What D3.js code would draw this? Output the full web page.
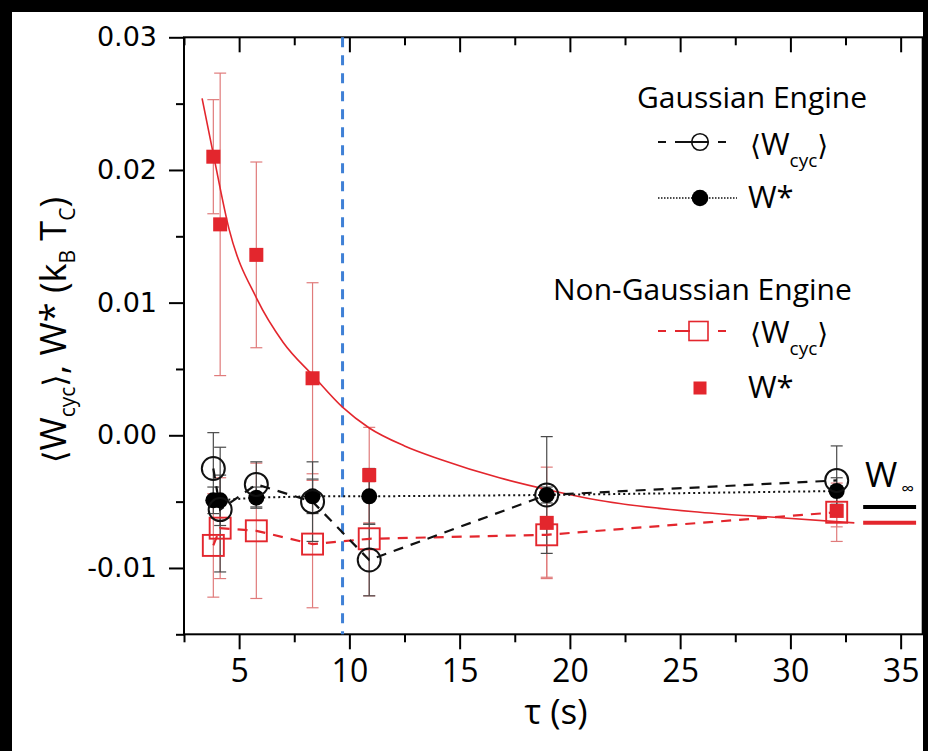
<!DOCTYPE html>
<html><head><meta charset="utf-8">
<script src="https://cdn.jsdelivr.net/npm/d3@7"></script>
<style>body{margin:0;background:#000;} svg{display:block}</style>
</head><body>
<svg id="chart" width="928" height="751"></svg>
<script>
// ---- data ----
const tau = [3.83, 4.14, 5.78, 8.33, 10.9, 18.95, 32.1];
const gaussWcyc      = [-0.0025, -0.0056, -0.0037, -0.0050, -0.0094, -0.0045, -0.0034];
const gaussWcycErr   = [0.0027, 0.0047, 0.0017, 0.0030, 0.0027, 0.0044, 0.0026];
const gaussWstar     = [-0.0049, -0.0049, -0.0047, -0.0046, -0.0046, -0.0045, -0.0042];
const gaussWstarErr  = [0.0010, 0.0019, 0.0008, 0.0013, 0.0021, 0.0006, 0.0010];
const nonGaussWcyc    = [-0.0083, -0.0070, -0.0072, -0.0082, -0.0078, -0.0075, -0.0058];
const nonGaussWcycErr = [0.0039, 0.0038, 0.0051, 0.0048, 0.0043, 0.0032, 0.0022];
const nonGaussWstar    = [0.0210, 0.0159, 0.0136, 0.0043, -0.0030, -0.0066, -0.0057];
const nonGaussWstarErr = [0.0043, 0.0114, 0.0070, 0.0072, 0.0036, 0.0042, 0.0012];
// fitted curve
const fitTau = [3.32, 3.83, 4.55, 5.8, 7.0, 8.35, 9.7, 10.9, 12.5, 14.1, 16.8, 19.0, 21.3, 25.9, 29.4, 32.9];
const fitW   = [0.0254, 0.0212, 0.0155, 0.0103, 0.0070, 0.0045, 0.0021, 0.00055, -0.0008, -0.0018, -0.0032, -0.0041, -0.0049, -0.0058, -0.0062, -0.0066];
const tauCritical = 9.69;
const wInfGauss = -0.0054, wInfNonGauss = -0.0066;
const wInfTau = [33.3, 35.7];
const xMajor = [5, 10, 15, 20, 25, 30, 35];
const xMinor = [2.5, 7.5, 12.5, 17.5, 22.5, 27.5, 32.5];
const yMajor = [-0.01, 0.00, 0.01, 0.02, 0.03];
const yMinor = [-0.015, -0.005, 0.005, 0.015, 0.025];
const yTickLabels = ["-0.01", "0.00", "0.01", "0.02", "0.03"];

// ---- setup ----
const svg = d3.select("#chart");
svg.append("rect").attr("x", 12).attr("y", 12).attr("width", 911).attr("height", 739).attr("fill", "#fff");
const x = d3.scaleLinear().domain([2.5, 36]).range([184, 922.7]);
const y = d3.scaleLinear().domain([-0.015, 0.03]).range([634.3, 37.3]);
const X0 = x.range()[0], X1 = x.range()[1], Y0 = y.range()[1], Y1 = y.range()[0];

const RED = "#e3262d", REDBAR = "#e07b7b", GRAYBAR = "#4a4a4a";

// ---- axes ----
function styleAxis(g) {
  g.selectAll("path.domain").remove();
  g.selectAll(".tick line").attr("stroke", "#000").attr("stroke-width", 2);
}
svg.append("g").attr("transform", `translate(0,${Y1})`)
  .call(d3.axisBottom(x).tickValues(xMajor).tickSize(15).tickSizeOuter(0).tickPadding(10).tickFormat(d3.format("d")))
  .call(styleAxis)
  .call(g => g.selectAll("text").attr("font-family", "Open Sans").attr("font-size", 32).attr("fill", "#000"));
svg.append("g").attr("transform", `translate(0,${Y1})`)
  .call(d3.axisBottom(x).tickValues(xMinor).tickSize(8).tickSizeOuter(0).tickFormat(""))
  .call(styleAxis);
svg.append("g").attr("transform", `translate(0,${Y0})`)
  .call(d3.axisTop(x).tickValues(xMajor).tickSize(-15).tickSizeOuter(0).tickFormat(""))
  .call(styleAxis);
svg.append("g").attr("transform", `translate(0,${Y0})`)
  .call(d3.axisTop(x).tickValues(xMinor).tickSize(-8).tickSizeOuter(0).tickFormat(""))
  .call(styleAxis);
svg.append("g").attr("transform", `translate(${X0},0)`)
  .call(d3.axisLeft(y).tickValues(yMajor).tickSize(15).tickSizeOuter(0).tickPadding(12)
    .tickFormat((d, i) => yTickLabels[i]))
  .call(styleAxis)
  .call(g => g.selectAll("text").attr("font-family", "DejaVu Sans").attr("font-size", 27).attr("fill", "#000"));
svg.append("g").attr("transform", `translate(${X0},0)`)
  .call(d3.axisLeft(y).tickValues(yMinor).tickSize(8).tickSizeOuter(0).tickFormat(""))
  .call(styleAxis);
svg.append("rect").attr("x", X0).attr("y", Y0).attr("width", X1 - X0).attr("height", Y1 - Y0)
  .attr("fill", "none").attr("stroke", "#000").attr("stroke-width", 2);

// ---- vertical dashed line ----
svg.append("line").attr("x1", x(tauCritical)).attr("x2", x(tauCritical)).attr("y1", Y0).attr("y2", Y1)
  .attr("stroke", "#3f80d6").attr("stroke-width", 3).attr("stroke-dasharray", "10,8");

// ---- error bars ----
function errorBars(vals, errs, color) {
  const g = svg.append("g").attr("stroke", color).attr("stroke-width", 1.2).attr("fill", "none");
  tau.forEach((t, i) => {
    const cx = x(t), ya = y(vals[i] + errs[i]), yb = y(vals[i] - errs[i]);
    g.append("line").attr("x1", cx).attr("x2", cx).attr("y1", ya).attr("y2", yb);
    g.append("line").attr("x1", cx - 6).attr("x2", cx + 6).attr("y1", ya).attr("y2", ya);
    g.append("line").attr("x1", cx - 6).attr("x2", cx + 6).attr("y1", yb).attr("y2", yb);
  });
}
errorBars(nonGaussWcyc, nonGaussWcycErr, REDBAR);
errorBars(nonGaussWstar, nonGaussWstarErr, REDBAR);
errorBars(gaussWcyc, gaussWcycErr, GRAYBAR);
errorBars(gaussWstar, gaussWstarErr, GRAYBAR);

// ---- fit curve ----
const line = d3.line().x(d => x(d[0])).y(d => y(d[1]));
svg.append("path").datum(fitTau.map((t, i) => [t, fitW[i]]))
  .attr("d", line.curve(d3.curveMonotoneX)).attr("fill", "none").attr("stroke", RED).attr("stroke-width", 1.6);

// ---- connecting lines ----
const lin = d3.line().x(d => x(d[0])).y(d => y(d[1])).curve(d3.curveLinear);
svg.append("path").datum(tau.map((t, i) => [t, nonGaussWcyc[i]])).attr("d", lin)
  .attr("fill", "none").attr("stroke", RED).attr("stroke-width", 2.2).attr("stroke-dasharray", "10,8");
svg.append("path").datum(tau.map((t, i) => [t, gaussWcyc[i]])).attr("d", lin)
  .attr("fill", "none").attr("stroke", "#111").attr("stroke-width", 2.2).attr("stroke-dasharray", "10,8");
svg.append("path").datum(tau.map((t, i) => [t, gaussWstar[i]])).attr("d", lin)
  .attr("fill", "none").attr("stroke", "#111").attr("stroke-width", 2).attr("stroke-dasharray", "2,3");

// ---- markers ----
svg.append("g").selectAll("rect").data(tau).join("rect")
  .attr("x", (t) => x(t) - 10.5).attr("y", (t, i) => y(nonGaussWcyc[i]) - 10.5)
  .attr("width", 21).attr("height", 21).attr("fill", "none").attr("stroke", RED).attr("stroke-width", 1.9);
svg.append("g").selectAll("rect").data(tau).join("rect")
  .attr("x", (t) => x(t) - 7).attr("y", (t, i) => y(nonGaussWstar[i]) - 7)
  .attr("width", 14).attr("height", 14).attr("fill", RED);
svg.append("g").selectAll("circle").data(tau).join("circle")
  .attr("cx", (t) => x(t)).attr("cy", (t, i) => y(gaussWstar[i])).attr("r", 8).attr("fill", "#000");
svg.append("g").selectAll("circle").data(tau).join("circle")
  .attr("cx", (t) => x(t)).attr("cy", (t, i) => y(gaussWcyc[i])).attr("r", 11.5)
  .attr("fill", "none").attr("stroke", "#111").attr("stroke-width", 2);

// ---- W infinity ----
svg.append("line").attr("x1", x(wInfTau[0])).attr("x2", x(wInfTau[1])).attr("y1", y(wInfGauss)).attr("y2", y(wInfGauss))
  .attr("stroke", "#000").attr("stroke-width", 4);
svg.append("line").attr("x1", x(wInfTau[0])).attr("x2", x(wInfTau[1])).attr("y1", y(wInfNonGauss)).attr("y2", y(wInfNonGauss))
  .attr("stroke", RED).attr("stroke-width", 4);
const winf = svg.append("text").attr("x", 865).attr("y", 487).attr("font-family", "Open Sans").attr("font-size", 35).attr("fill", "#000");
winf.append("tspan").text("W");
winf.append("tspan").attr("font-size", 18).attr("dx", 4).attr("dy", 8).text("∞");

// ---- legend ----
const LF = "Open Sans";
svg.append("text").attr("x", 637).attr("y", 108).attr("font-family", LF).attr("font-size", 30).attr("fill", "#000").text("Gaussian Engine");
svg.append("text").attr("x", 553).attr("y", 300).attr("font-family", LF).attr("font-size", 30).attr("fill", "#000").text("Non-Gaussian Engine");

function wcycLabel(xp, yb) {
  const t = svg.append("text").attr("x", xp).attr("y", yb).attr("font-family", LF).attr("font-size", 31).attr("fill", "#000");
  t.append("tspan").attr("font-family", "DejaVu Sans").attr("font-size", 28).text("⟨");
  t.append("tspan").text("W");
  t.append("tspan").attr("font-size", 19).attr("dy", 12).text("cyc");
  t.append("tspan").attr("font-family", "DejaVu Sans").attr("font-size", 28).attr("dy", -12).text("⟩");
}
function seg(g, x1, x2, yy, color, w, dash) {
  const l = g.append("line").attr("x1", x1).attr("x2", x2).attr("y1", yy).attr("y2", yy).attr("stroke", color).attr("stroke-width", w);
  if (dash) l.attr("stroke-dasharray", dash);
}
const lg = svg.append("g");
// row 1
seg(lg, 658, 666, 142, "#111", 2);
seg(lg, 675, 708, 142, "#111", 2);
seg(lg, 718, 726, 142, "#111", 2);
lg.append("circle").attr("cx", 700).attr("cy", 142).attr("r", 8.3).attr("fill", "none").attr("stroke", "#111").attr("stroke-width", 1.6);
wcycLabel(750, 155);
// row 2
seg(lg, 658, 737, 198, "#111", 1.5, "1.5,1.5");
lg.append("circle").attr("cx", 700).attr("cy", 198).attr("r", 8.3).attr("fill", "#000");
svg.append("text").attr("x", 748).attr("y", 208).attr("font-family", LF).attr("font-size", 31).attr("fill", "#000").text("W*");
// row 4
seg(lg, 658, 666, 331, RED, 2);
seg(lg, 675, 690, 331, RED, 2);
seg(lg, 718, 726, 331, RED, 2);
lg.append("rect").attr("x", 689).attr("y", 321.5).attr("width", 19).attr("height", 19).attr("fill", "none").attr("stroke", RED).attr("stroke-width", 1.6);
wcycLabel(750, 343);
// row 5
lg.append("rect").attr("x", 693.5).attr("y", 381.5).attr("width", 13).attr("height", 13).attr("fill", RED);
svg.append("text").attr("x", 748).attr("y", 398).attr("font-family", LF).attr("font-size", 31).attr("fill", "#000").text("W*");

// ---- axis titles ----
const yt = svg.append("text").attr("transform", "translate(66,330) rotate(-90)").attr("text-anchor", "middle")
  .attr("font-family", LF).attr("font-size", 36).attr("fill", "#000");
yt.append("tspan").attr("font-family", "DejaVu Sans").attr("font-size", 32).text("⟨");
yt.append("tspan").text("W");
yt.append("tspan").attr("font-size", 21).attr("dy", 9).text("cyc");
yt.append("tspan").attr("font-family", "DejaVu Sans").attr("font-size", 32).attr("dy", -9).text("⟩");
yt.append("tspan").text(", W* (k");
yt.append("tspan").attr("font-size", 21).attr("dy", 9).text("B");
yt.append("tspan").attr("dy", -9).text(" T");
yt.append("tspan").attr("font-size", 21).attr("dy", 9).text("C");
yt.append("tspan").attr("dy", -9).text(")");

svg.append("text").attr("x", 556).attr("y", 724).attr("text-anchor", "middle").attr("font-family", LF)
  .attr("font-size", 35).attr("fill", "#000").text("τ (s)");
</script>
</body></html>
